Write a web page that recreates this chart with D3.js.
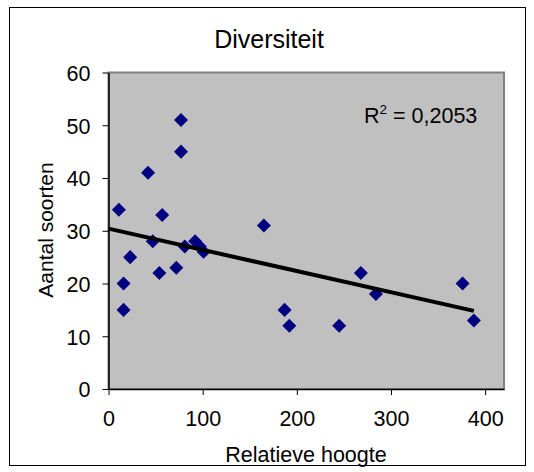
<!DOCTYPE html>
<html lang="nl">
<head>
    <meta charset="UTF-8">
    <title>Diversiteit</title>
    <script src="https://d3js.org/d3.v7.min.js"></script>
    <style>
        body {
            margin: 0;
            padding: 0;
            background: white;
            font-family: "Liberation Sans", Arial, sans-serif;
        }
        svg text {
            fill: #000;
        }
    </style>
</head>
<body>
    <div id="chart"></div>

    <script>
        // Data
        const hoogte = [11, 16, 16, 23, 42, 47, 54, 57, 72, 77, 77, 81, 92, 97, 101, 165, 187, 192, 245, 268, 284, 376, 388];
        const soorten = [34, 20, 15, 25, 41, 28, 22, 33, 23, 51, 45, 27, 28, 27, 26, 31, 15, 12, 12, 22, 18, 20, 13];
        const xTicks = [0, 100, 200, 300, 400];
        const yTicks = [0, 10, 20, 30, 40, 50, 60];
        // Trendline as shown in the chart (intercept, slope)
        const trendIntercept = 30.4;
        const trendSlope = -0.0402;
        const rSquared = "0,2053";

        const W = 534, H = 472;
        const plot = {left: 108.5, top: 72.5, right: 504, bottom: 389};

        const svg = d3.select("#chart")
            .append("svg")
            .attr("width", W)
            .attr("height", H);

        // Outer chart border
        svg.append("rect")
            .attr("x", 9.5).attr("y", 7.5)
            .attr("width", 516).attr("height", 458)
            .attr("fill", "white")
            .attr("stroke", "#000")
            .attr("stroke-width", 1);

        const x = d3.scaleLinear().domain([0, 420]).range([plot.left, plot.right]);
        const y = d3.scaleLinear().domain([0, 60]).range([plot.bottom, plot.top]);

        // Plot area
        svg.append("rect")
            .attr("x", plot.left).attr("y", plot.top)
            .attr("width", plot.right - plot.left)
            .attr("height", plot.bottom - plot.top)
            .attr("fill", "#c0c0c0")
            .attr("stroke", "#808080")
            .attr("stroke-width", 2);

        // Axes
        const xAxis = svg.append("g")
            .attr("transform", `translate(0,${plot.bottom})`)
            .call(d3.axisBottom(x).tickValues(xTicks).tickSize(6).tickPadding(16).tickSizeOuter(0));
        const yAxis = svg.append("g")
            .attr("transform", `translate(${plot.left},0)`)
            .call(d3.axisLeft(y).tickValues(yTicks).tickSize(6).tickPadding(12).tickSizeOuter(0));

        [xAxis, yAxis].forEach(a => {
            a.select(".domain").attr("stroke", "#000").attr("stroke-width", 1.5);
            a.selectAll(".tick line").attr("stroke", "#000");
            a.selectAll(".tick text")
                .style("font-family", '"Liberation Sans", Arial, sans-serif')
                .style("font-size", "21.5px")
                .attr("fill", "#000");
        });
        yAxis.selectAll(".tick text").attr("dy", "0.36em");

        // Markers
        const data = hoogte.map((h, i) => ({x: h, y: soorten[i]}));
        const diamond = d3.symbol().type(d3.symbolDiamond2).size(125);
        svg.append("g")
            .selectAll("path")
            .data(data)
            .join("path")
            .attr("transform", d => `translate(${x(d.x)},${y(d.y)})`)
            .attr("d", diamond)
            .attr("fill", "#000080");

        // Trendline
        const xMax = d3.max(hoogte);
        const trend = [0, xMax].map(v => ({x: v, y: trendIntercept + trendSlope * v}));
        svg.append("path")
            .datum(trend)
            .attr("d", d3.line().x(d => x(d.x)).y(d => y(d.y)))
            .attr("fill", "none")
            .attr("stroke", "#000")
            .attr("stroke-width", 4);

        // Title
        svg.append("text")
            .attr("x", 269).attr("y", 48)
            .attr("text-anchor", "middle")
            .style("font-size", "25px")
            .text("Diversiteit");

        // Axis titles
        svg.append("text")
            .attr("x", 306).attr("y", 462)
            .attr("text-anchor", "middle")
            .style("font-size", "21.5px")
            .text("Relatieve hoogte");

        svg.append("text")
            .attr("transform", "translate(53,230) rotate(-90)")
            .attr("text-anchor", "middle")
            .style("font-size", "21px")
            .text("Aantal soorten");

        // R squared label
        const r2 = svg.append("text")
            .attr("x", 364).attr("y", 123)
            .style("font-size", "21.5px");
        r2.append("tspan").text("R");
        r2.append("tspan").attr("dy", -9).style("font-size", "13.5px").text("2");
        r2.append("tspan").attr("dy", 9).text(" = " + rSquared);
    </script>
</body>
</html>
